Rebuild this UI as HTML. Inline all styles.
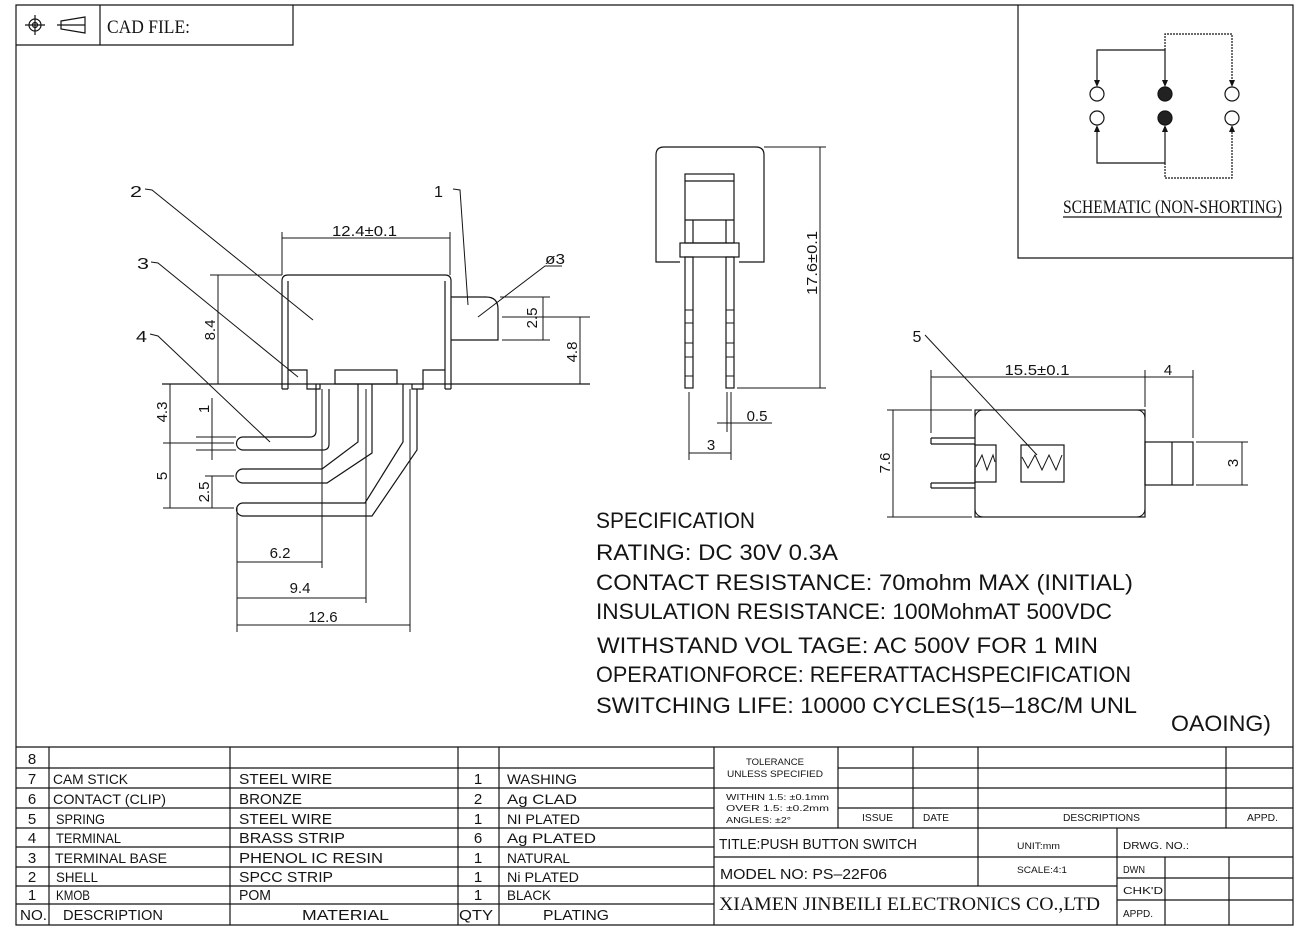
<!DOCTYPE html>
<html><head><meta charset="utf-8"><style>
html,body{margin:0;padding:0;background:#fff;}
svg{display:block;}
text{fill:#141414;}
</style></head><body>
<svg width="1313" height="931" viewBox="0 0 1313 931" xmlns="http://www.w3.org/2000/svg" font-family="'Liberation Sans', sans-serif">
<rect width="1313" height="931" fill="#fff"/>
<g stroke="#141414" stroke-width="1.2" fill="none">
<!-- frame -->
<path d="M16,5 H1293 V925 H16 Z"/>
<path d="M100,5 V45 M16,45 H293 V5"/>
<path d="M1018,5 V258 H1293"/>
<!-- icons -->
<circle cx="35" cy="25" r="6"/><circle cx="35" cy="25" r="2.5"/>
<path d="M25,25 H45 M35,15 V35"/>
<path d="M61,21 L85,17 V33 L61,29 Z M57,25 H85"/>

<!-- schematic -->
<circle cx="1097" cy="94" r="7"/><circle cx="1232" cy="94" r="7"/>
<circle cx="1097" cy="118" r="7"/><circle cx="1232" cy="118" r="7"/>
<circle cx="1165" cy="94" r="7" fill="#222"/><circle cx="1165" cy="118" r="7" fill="#222"/>
<path d="M1097,84 V50 H1165 V84"/>
<path d="M1165,50 V34 H1232 V84" stroke-dasharray="2,1"/>
<path d="M1097,128 V163 H1165 V128"/>
<path d="M1165,163 V178 H1232 V128" stroke-dasharray="2,1"/>
<path d="M1063,217 H1282"/>

<!-- left drawing -->
<path d="M162,384 H590"/>
<path d="M282,389 V281 Q282,275 288,275 H445 Q451,275 451,281 V389"/>
<path d="M288,281 V389 M282,389 H288 M445,281 V389 M445,389 H451"/>
<path d="M288,370 H307 V389 H320 V384"/>
<rect x="335" y="370" width="62" height="14"/>
<path d="M445,370 H423 V389 H412 V384"/>
<!-- leads -->
<path d="M316,384 V431 Q316,437 310,437 H243 A6.5,6.5 0 0 0 243,450 H323 Q329,450 329,444 V389"/>
<path d="M358,384 V442 L322,469 H243 A7,7 0 0 0 243,483 H327 L372,453 V384"/>
<path d="M403,384 V442 L365,503 H243 A6.5,6.5 0 0 0 243,516 H372 L417,450 V389"/>
<!-- centerlines / dims -->
<path d="M322,389 V568 M366,389 V603 M410,389 V632 M237,507 V632" stroke-width="1"/>
<path d="M237,562 H322 M237,598 H366 M237,625 H410" stroke-width="1"/>
<path d="M282,232 V275 M450,232 V275 M282,238 H450" stroke-width="1"/>
<path d="M210,275 H282 M218,275 V384" stroke-width="1"/>
<path d="M170,384 V508 M163,443 H234 M163,508 H234" stroke-width="1"/>
<path d="M196,437 H236 M196,450 H236 M212,398 V460 M205,476 H234 M212,476 V508" stroke-width="1"/>
<!-- button -->
<path d="M451,297 H486 Q498,297 498,309 V340 H451"/>
<path d="M478,317 L545,266 H562" stroke-width="1"/>
<path d="M500,297 H550 M502,340 H550 M502,317 H590 M543,297 V340 M580,317 V384" stroke-width="1"/>
<!-- leaders -->
<path d="M145,189 L152,190 L313,320" stroke-width="1"/>
<path d="M151,262 L158,263 L298,377" stroke-width="1"/>
<path d="M150,334 L158,336 L270,442" stroke-width="1"/>
<path d="M453,189 L460,190 L468,305" stroke-width="1"/>

<!-- middle drawing -->
<path d="M680,262 H656 V155 Q656,147 664,147 H756 Q764,147 764,155 V262 H739"/>
<path d="M764,147 H826 M737,388 H826 M820,147 V388" stroke-width="1"/>
<rect x="685" y="174" width="49" height="69"/>
<path d="M685,181 H734 M685,220 H734 M693,220 V243 M726,220 V243"/>
<rect x="680" y="243" width="59" height="14"/>
<rect x="685" y="257" width="8" height="131"/>
<rect x="726" y="257" width="8" height="131"/>
<path d="M685,310 H693 M685,323 H693 M685,343 H693 M685,357 H693 M685,376 H693 M726,310 H734 M726,323 H734 M726,343 H734 M726,357 H734 M726,376 H734" stroke-width="1"/>
<path d="M727,392 V432 M731,392 V460 M717,423 H772 M689,392 V460 M689,453 H731" stroke-width="1"/>

<!-- right drawing -->
<rect x="975" y="410" width="170" height="107"/>
<path d="M975,418 A8,8 0 0 1 983,410 M1137,410 A8,8 0 0 1 1145,418 M975,509 A8,8 0 0 0 983,517 M1137,517 A8,8 0 0 0 1145,509" stroke-width="1"/>
<path d="M931,438 H975 M931,444 H975 M931,438 V444 M931,483 H975 M931,488 H975 M931,483 V488"/>
<rect x="975" y="445" width="21" height="37"/>
<rect x="1021" y="445" width="43" height="37"/>
<polyline points="976,467 982,455 987,470 993,455 995,462" stroke-width="1"/>
<polyline points="1022,457 1028,468 1035,455 1042,470 1049,455 1056,470 1062,455" stroke-width="1"/>
<rect x="1145" y="442" width="48" height="43"/>
<path d="M1172,442 V485"/>
<path d="M931,370 V433 M1145,370 V407 M1193,370 V438 M931,377 H1193" stroke-width="1"/>
<path d="M887,410 H972 M887,517 H972 M893,410 V517" stroke-width="1"/>
<path d="M1196,442 H1248 M1196,485 H1248 M1242,442 V485" stroke-width="1"/>
<path d="M925,335 L1037,455" stroke-width="1"/>

<!-- table -->
<path d="M16,747 H1293"/>
<path d="M16,768 H714 M16,788 H714 M16,808 H714 M16,828 H714 M16,847 H714 M16,867 H714 M16,886 H714 M16,904 H714"/>
<path d="M49,747 V925 M230,747 V925 M458,747 V925 M499,747 V925 M714,747 V925"/>
<path d="M838,768 H1293 M714,788 H1293 M838,808 H1293 M714,828 H1293 M714,857 H1293 M714,886 H1117 M1117,878 H1293 M1117,900 H1293"/>
<path d="M838,747 V828 M913,747 V828 M978,747 V886 M1226,747 V828 M1117,828 V925 M1165,857 V925 M1229,857 V925"/>
</g>
<!-- schematic arrowheads -->
<g fill="#141414">
<path d="M1094,80 L1100,80 L1097,87 Z M1162,80 L1168,80 L1165,87 Z M1229,80 L1235,80 L1232,87 Z"/>
<path d="M1094,132 L1100,132 L1097,125 Z M1162,132 L1168,132 L1165,125 Z M1229,132 L1235,132 L1232,125 Z"/>
</g>

<!-- header text -->
<text x="107" y="33" font-family="'Liberation Serif', serif" font-size="19" textLength="83" lengthAdjust="spacingAndGlyphs">CAD FILE:</text>
<text x="1063" y="213" font-family="'Liberation Serif', serif" font-size="19" textLength="219" lengthAdjust="spacingAndGlyphs">SCHEMATIC (NON-SHORTING)</text>

<!-- left drawing labels -->
<g font-size="16">
<text x="130" y="197" textLength="12" lengthAdjust="spacingAndGlyphs">2</text>
<text x="137" y="269" textLength="12" lengthAdjust="spacingAndGlyphs">3</text>
<text x="136" y="342" textLength="11" lengthAdjust="spacingAndGlyphs">4</text>
<text x="434" y="197" textLength="9" lengthAdjust="spacingAndGlyphs">1</text>
<text x="917" y="342" text-anchor="middle">5</text>
</g>
<g font-size="15">
<text x="332" y="236" textLength="65" lengthAdjust="spacingAndGlyphs">12.4±0.1</text>
<text x="545" y="264" textLength="20" lengthAdjust="spacingAndGlyphs">ø3</text>
<text transform="translate(210,330) rotate(-90)" text-anchor="middle" dy="5">8.4</text>
<text transform="translate(532,318) rotate(-90)" text-anchor="middle" dy="5">2.5</text>
<text transform="translate(572,352) rotate(-90)" text-anchor="middle" dy="5">4.8</text>
<text transform="translate(162,412) rotate(-90)" text-anchor="middle" dy="5">4.3</text>
<text transform="translate(162,476) rotate(-90)" text-anchor="middle" dy="5">5</text>
<text transform="translate(204,409) rotate(-90)" text-anchor="middle" dy="5">1</text>
<text transform="translate(204,492) rotate(-90)" text-anchor="middle" dy="5">2.5</text>
<text x="280" y="558" text-anchor="middle">6.2</text>
<text x="300" y="593" text-anchor="middle">9.4</text>
<text x="323" y="622" text-anchor="middle">12.6</text>
<text transform="translate(812,263) rotate(-90)" text-anchor="middle" dy="5" textLength="64" lengthAdjust="spacingAndGlyphs">17.6±0.1</text>
<text x="757" y="421" text-anchor="middle">0.5</text>
<text x="711" y="450" text-anchor="middle">3</text>
<text x="1037" y="375" text-anchor="middle" textLength="65" lengthAdjust="spacingAndGlyphs">15.5±0.1</text>
<text x="1168" y="375" text-anchor="middle">4</text>
<text transform="translate(885,463) rotate(-90)" text-anchor="middle" dy="5">7.6</text>
<text transform="translate(1233,463) rotate(-90)" text-anchor="middle" dy="5">3</text>
</g>

<!-- spec -->
<g font-size="22">
<text x="596" y="528" textLength="159" lengthAdjust="spacingAndGlyphs">SPECIFICATION</text>
<text x="596" y="560" textLength="242" lengthAdjust="spacingAndGlyphs">RATING: DC  30V  0.3A</text>
<text x="596" y="590" textLength="537" lengthAdjust="spacingAndGlyphs">CONTACT RESISTANCE: 70mohm  MAX  (INITIAL)</text>
<text x="596" y="619" textLength="516" lengthAdjust="spacingAndGlyphs">INSULATION RESISTANCE: 100MohmAT  500VDC</text>
<text x="597" y="653" textLength="501" lengthAdjust="spacingAndGlyphs">WITHSTAND  VOL TAGE: AC  500V  FOR  1  MIN</text>
<text x="596" y="682" textLength="535" lengthAdjust="spacingAndGlyphs">OPERATIONFORCE: REFERATTACHSPECIFICATION</text>
<text x="596" y="713" textLength="541" lengthAdjust="spacingAndGlyphs">SWITCHING  LIFE: 10000  CYCLES(15–18C/M  UNL</text>
<text x="1171" y="731" textLength="100" lengthAdjust="spacingAndGlyphs">OAOING)</text>
</g>

<!-- left table -->
<g font-size="15" text-anchor="middle">
<text x="32" y="764">8</text>
<text x="32" y="784">7</text>
<text x="32" y="804">6</text>
<text x="32" y="824">5</text>
<text x="32" y="843">4</text>
<text x="32" y="863">3</text>
<text x="32" y="882">2</text>
<text x="32" y="900">1</text>
<text x="478" y="784">1</text>
<text x="478" y="804">2</text>
<text x="478" y="824">1</text>
<text x="478" y="843">6</text>
<text x="478" y="863">1</text>
<text x="478" y="882">1</text>
<text x="478" y="900">1</text>
</g>
<g font-size="14">
<text x="53" y="784" textLength="75" lengthAdjust="spacingAndGlyphs">CAM  STICK</text>
<text x="53" y="804" textLength="113" lengthAdjust="spacingAndGlyphs">CONTACT (CLIP)</text>
<text x="56" y="824" textLength="49" lengthAdjust="spacingAndGlyphs">SPRING</text>
<text x="56" y="843" textLength="65" lengthAdjust="spacingAndGlyphs">TERMINAL</text>
<text x="55" y="863" textLength="112" lengthAdjust="spacingAndGlyphs">TERMINAL BASE</text>
<text x="56" y="882" textLength="42" lengthAdjust="spacingAndGlyphs">SHELL</text>
<text x="56" y="900" textLength="34" lengthAdjust="spacingAndGlyphs">KMOB</text>
<text x="507" y="784" textLength="70" lengthAdjust="spacingAndGlyphs">WASHING</text>
<text x="507" y="804" textLength="70" lengthAdjust="spacingAndGlyphs">Ag  CLAD</text>
<text x="507" y="824" textLength="73" lengthAdjust="spacingAndGlyphs">NI  PLATED</text>
<text x="507" y="843" textLength="89" lengthAdjust="spacingAndGlyphs">Ag  PLATED</text>
<text x="507" y="863" textLength="63" lengthAdjust="spacingAndGlyphs">NATURAL</text>
<text x="507" y="882" textLength="72" lengthAdjust="spacingAndGlyphs">Ni  PLATED</text>
<text x="507" y="900" textLength="44" lengthAdjust="spacingAndGlyphs">BLACK</text>
</g>
<g font-size="15">
<text x="239" y="784" textLength="93" lengthAdjust="spacingAndGlyphs">STEEL  WIRE</text>
<text x="239" y="804" textLength="63" lengthAdjust="spacingAndGlyphs">BRONZE</text>
<text x="239" y="824" textLength="93" lengthAdjust="spacingAndGlyphs">STEEL  WIRE</text>
<text x="239" y="843" textLength="106" lengthAdjust="spacingAndGlyphs">BRASS  STRIP</text>
<text x="239" y="863" textLength="144" lengthAdjust="spacingAndGlyphs">PHENOL  IC  RESIN</text>
<text x="239" y="882" textLength="94" lengthAdjust="spacingAndGlyphs">SPCC  STRIP</text>
<text x="239" y="900" textLength="32" lengthAdjust="spacingAndGlyphs">POM</text>
<text x="20" y="920" textLength="27" lengthAdjust="spacingAndGlyphs">NO.</text>
<text x="63" y="920" textLength="100" lengthAdjust="spacingAndGlyphs">DESCRIPTION</text>
<text x="302" y="920" textLength="87" lengthAdjust="spacingAndGlyphs">MATERIAL</text>
<text x="459" y="920" textLength="34" lengthAdjust="spacingAndGlyphs">QTY</text>
<text x="543" y="920" textLength="66" lengthAdjust="spacingAndGlyphs">PLATING</text>
</g>

<!-- right table -->
<g font-size="9">
<text x="746" y="765" textLength="58" lengthAdjust="spacingAndGlyphs">TOLERANCE</text>
<text x="727" y="777" textLength="96" lengthAdjust="spacingAndGlyphs">UNLESS SPECIFIED</text>
<text x="726" y="800" font-size="8" textLength="103" lengthAdjust="spacingAndGlyphs">WITHIN 1.5: ±0.1mm</text>
<text x="726" y="811" font-size="8" textLength="103" lengthAdjust="spacingAndGlyphs">OVER 1.5:  ±0.2mm</text>
<text x="726" y="823" font-size="8" textLength="65" lengthAdjust="spacingAndGlyphs">ANGLES: ±2°</text>
<text x="862" y="821" font-size="10" textLength="31" lengthAdjust="spacingAndGlyphs">ISSUE</text>
<text x="923" y="821" font-size="10" textLength="26" lengthAdjust="spacingAndGlyphs">DATE</text>
<text x="1063" y="821" font-size="10" textLength="77" lengthAdjust="spacingAndGlyphs">DESCRIPTIONS</text>
<text x="1247" y="821" font-size="10" textLength="31" lengthAdjust="spacingAndGlyphs">APPD.</text>
<text x="1017" y="849" textLength="43" lengthAdjust="spacingAndGlyphs">UNIT:mm</text>
<text x="1017" y="873" textLength="50" lengthAdjust="spacingAndGlyphs">SCALE:4:1</text>
<text x="1123" y="849" font-size="10" textLength="66" lengthAdjust="spacingAndGlyphs">DRWG.  NO.:</text>
<text x="1123" y="873" font-size="10" textLength="22" lengthAdjust="spacingAndGlyphs">DWN</text>
<text x="1123" y="894" font-size="10" textLength="40" lengthAdjust="spacingAndGlyphs">CHK'D</text>
<text x="1123" y="917" font-size="10" textLength="30" lengthAdjust="spacingAndGlyphs">APPD.</text>
</g>
<text x="719" y="849" font-size="15" textLength="198" lengthAdjust="spacingAndGlyphs">TITLE:PUSH  BUTTON  SWITCH</text>
<text x="720" y="879" font-size="15" textLength="167" lengthAdjust="spacingAndGlyphs">MODEL  NO: PS–22F06</text>
<text x="719" y="910" font-family="'Liberation Serif', serif" font-size="19" textLength="381" lengthAdjust="spacingAndGlyphs">XIAMEN JINBEILI ELECTRONICS CO.,LTD</text>
</svg>
</body></html>
